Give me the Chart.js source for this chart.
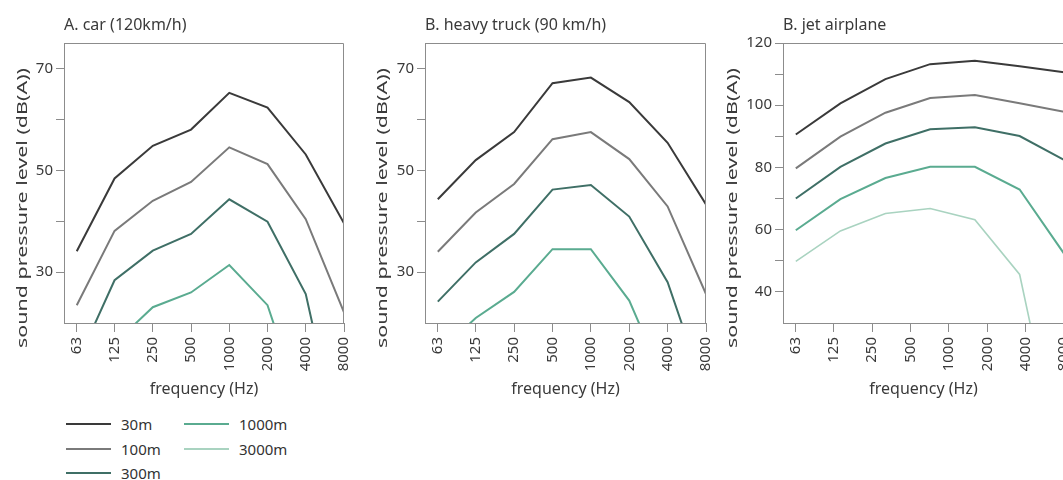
<!DOCTYPE html>
<html>
<head>
<meta charset="utf-8">
<script src="https://cdn.jsdelivr.net/npm/chart.js@4"></script>
<style>
  body { margin: 0; background: #fff; overflow: hidden; }
  #page { position: relative; width: 1063px; height: 480px; overflow: hidden; font-family: "Noto Sans", sans-serif; }
  canvas { position: absolute; top: 0; }
  #legend {
    position: absolute; left: 66px; top: 412px;
    display: grid; grid-template-rows: repeat(3, 24.5px); grid-auto-flow: column;
    grid-auto-columns: 118px; color: #333; font-size: 15px;
  }
  .legend-item { display: flex; align-items: center; }
  .legend-line { width: 45px; height: 2px; margin-right: 10px; }
</style>
</head>
<body>
<div id="page">
  <canvas id="car" width="360" height="400" style="left:0px"></canvas>
  <canvas id="truck" width="360" height="400" style="left:360px"></canvas>
  <canvas id="jet" width="370" height="400" style="left:710px"></canvas>
  <div id="legend"></div>
</div>
<script>
// frequency bands (Hz)
const octaveBands = [63, 125, 250, 500, 1000, 2000, 4000, 8000];
const jetBands = [63, 141, 318, 713, 1600, 3590, 8000];

const distances = ["30m", "100m", "300m", "1000m", "3000m"];

// A. car (120km/h), dB(A)
const car30 = [34.1, 48.4, 54.8, 58.0, 65.2, 62.3, 53.1, 39.6];
const car100 = [23.5, 38.1, 44.0, 47.7, 54.5, 51.2, 40.4, 22.1];
const car300 = [12, 28.4, 34.2, 37.5, 44.3, 39.9, 25.7, -8];
const car1000 = [8, 16, 23.1, 26.0, 31.4, 23.5, 1, -20];

// B. heavy truck (90 km/h)
const truck30 = [44.3, 52.0, 57.5, 67.1, 68.2, 63.4, 55.4, 43.3];
const truck100 = [34.0, 41.7, 47.3, 56.1, 57.5, 52.2, 42.9, 25.7];
const truck300 = [24.2, 31.9, 37.5, 46.2, 47.1, 40.9, 28.0, 6];
const truck1000 = [14, 21.0, 26.1, 34.5, 34.5, 24.4, 7, -10];

// B. jet airplane
const jet30 = [90.6, 100.6, 108.4, 113.2, 114.3, 112.5, 110.6];
const jet100 = [79.7, 89.9, 97.6, 102.3, 103.3, 100.6, 97.9];
const jet300 = [70.0, 80.2, 87.7, 92.3, 92.9, 90.1, 82.4];
const jet1000 = [59.8, 69.8, 76.6, 80.2, 80.2, 72.9, 52.3];
const jet3000 = [49.8, 59.6, 65.2, 66.8, 63.2, 45.6, -21];

const lineColors = ["#3a3a3a", "#7a7a7a", "#3f6f66", "#5aab90", "#a9d3c0"];
const frameColor = "#8c8c8c";
const textColor = "#3a3a3a";
const fontFamily = '"Noto Sans", sans-serif';
const yTitle = "sound pressure level (dB(A))";

const panelText = {
  id: "panelText",
  afterDraw(chart, args, opts) {
    const { ctx, chartArea } = chart;
    ctx.save();
    // top and right side of the frame
    ctx.strokeStyle = frameColor;
    ctx.lineWidth = 1;
    ctx.beginPath();
    ctx.moveTo(chartArea.left, chartArea.top + 0.5);
    ctx.lineTo(chartArea.right - 0.5, chartArea.top + 0.5);
    ctx.lineTo(chartArea.right - 0.5, chartArea.bottom);
    ctx.stroke();

    ctx.fillStyle = textColor;
    ctx.textBaseline = "middle";
    ctx.font = "16px " + fontFamily;
    ctx.fillText(opts.title, chartArea.left, 25);

    // y title is drawn stretched along its length like in the source figure
    ctx.font = "15px " + fontFamily;
    ctx.translate(23, 208);
    ctx.rotate(-Math.PI / 2);
    const w = ctx.measureText(yTitle).width;
    ctx.scale(280 / w, 1);
    ctx.textAlign = "center";
    ctx.fillText(yTitle, 0, 0);
    ctx.restore();
  },
};

function makePanel(id, cfg) {
  const canvas = document.getElementById(id);
  const datasets = cfg.series.map((values, i) => ({
    label: distances[i],
    data: values.map((v, j) => ({ x: cfg.bands[j], y: v })),
    borderColor: lineColors[i],
    borderWidth: i === 4 ? 1.6 : 2,
    pointRadius: 0,
    tension: 0,
    fill: false,
  }));

  const tickFont = { family: fontFamily, size: 15 };

  return new Chart(canvas, {
    type: "line",
    data: { datasets },
    plugins: [panelText],
    options: {
      responsive: false,
      animation: false,
      layout: { padding: { top: 43, left: 0, bottom: 0, right: canvas.width - cfg.plotRight } },
      plugins: {
        legend: { display: false },
        tooltip: { enabled: false },
        panelText: { title: cfg.title },
      },
      scales: {
        x: {
          type: "logarithmic",
          min: 50,
          max: 8000,
          bounds: "data",
          afterBuildTicks: (axis) => {
            axis.ticks = octaveBands.map((v) => ({ value: v }));
          },
          afterFit: (axis) => {
            axis.height = canvas.height - 323;
            axis.paddingLeft = 0;
            axis.paddingRight = 0;
          },
          grid: { drawOnChartArea: false, drawTicks: true, tickLength: 9, color: frameColor },
          border: { color: frameColor },
          ticks: {
            autoSkip: false,
            maxRotation: 90,
            minRotation: 90,
            padding: 5,
            color: textColor,
            font: tickFont,
            callback: (v) => String(v),
          },
          title: {
            display: true,
            text: "frequency (Hz)",
            color: textColor,
            font: { family: fontFamily, size: 16 },
            padding: { top: 0, bottom: 1 },
          },
        },
        y: {
          min: cfg.yMin,
          max: cfg.yMax,
          afterBuildTicks: (axis) => {
            axis.ticks = cfg.yTicks.map((v) => ({ value: v }));
          },
          afterFit: (axis) => {
            axis.width = cfg.plotLeft;
            axis.paddingTop = 0;
            axis.paddingBottom = 0;
          },
          grid: { drawOnChartArea: false, drawTicks: true, tickLength: 8, color: frameColor },
          border: { color: frameColor },
          ticks: {
            padding: 3,
            color: textColor,
            font: tickFont,
            callback: (v) => (cfg.yLabels.includes(v) ? String(v) : ""),
          },
        },
      },
    },
  });
}

makePanel("car", {
  title: "A. car (120km/h)",
  bands: octaveBands,
  series: [car30, car100, car300, car1000],
  yMin: 20, yMax: 75,
  yTicks: [30, 40, 50, 60, 70],
  yLabels: [30, 50, 70],
  plotLeft: 64, plotRight: 344,
});

makePanel("truck", {
  title: "B. heavy truck (90 km/h)",
  bands: octaveBands,
  series: [truck30, truck100, truck300, truck1000],
  yMin: 20, yMax: 75,
  yTicks: [30, 40, 50, 60, 70],
  yLabels: [30, 50, 70],
  plotLeft: 65, plotRight: 346,
});

makePanel("jet", {
  title: "B. jet airplane",
  bands: jetBands,
  series: [jet30, jet100, jet300, jet1000, jet3000],
  yMin: 30, yMax: 120,
  yTicks: [40, 50, 60, 70, 80, 90, 100, 110, 120],
  yLabels: [40, 60, 80, 100, 120],
  plotLeft: 73, plotRight: 354,
});

// legend, filled column by column
const legend = document.getElementById("legend");
distances.forEach((name, i) => {
  const item = document.createElement("div");
  item.className = "legend-item";
  item.innerHTML = `<span class="legend-line" style="background:${lineColors[i]}"></span><span>${name}</span>`;
  legend.appendChild(item);
});
</script>
</body>
</html>
